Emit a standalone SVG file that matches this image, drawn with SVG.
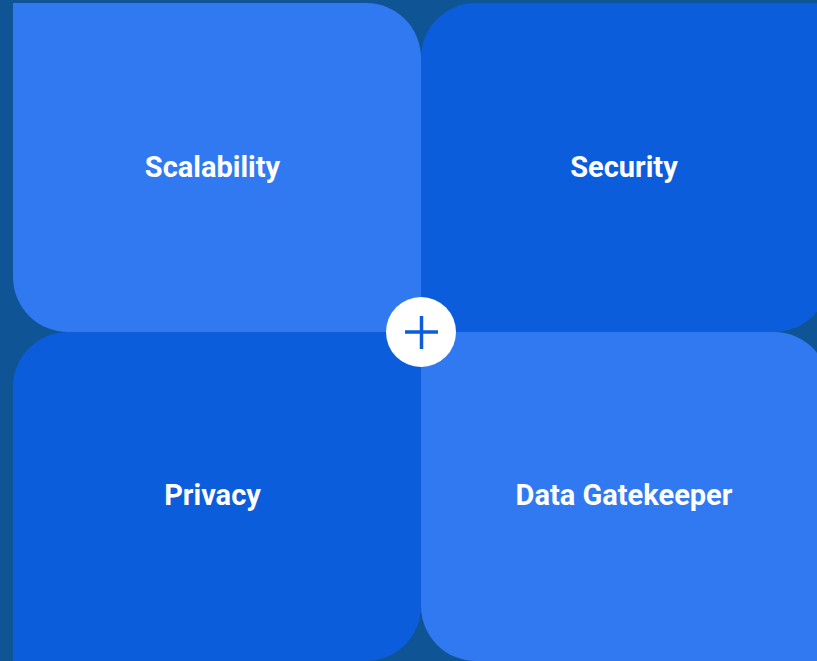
<svg xmlns="http://www.w3.org/2000/svg" width="817" height="661" viewBox="0 0 817 661">
  <style>
    .light { fill: #3179f1; }
    .dark { fill: #0c5ddc; }
    .label { font-family: Roboto, "Liberation Sans", sans-serif; font-weight: 700; font-size: 29px; fill: #ffffff; text-anchor: middle; }
  </style>
  <rect x="0" y="0" width="817" height="661" fill="#0f5596"/>
  <g id="scalability">
    <path class="light" d="M13,3 H366 A55,55 0 0 1 421,58 V332 H68 A55,55 0 0 1 13,277 Z"/>
    <text class="label" x="212.5" y="177">Scalability</text>
  </g>
  <g id="security">
    <path class="dark" d="M476,3 H829 V277 A55,55 0 0 1 774,332 H421 V58 A55,55 0 0 1 476,3 Z"/>
    <text class="label" x="624" y="177">Security</text>
  </g>
  <g id="privacy">
    <path class="dark" d="M68,332 H421 V606 A55,55 0 0 1 366,661 H13 V387 A55,55 0 0 1 68,332 Z"/>
    <text class="label" x="212.5" y="505">Privacy</text>
  </g>
  <g id="data-gatekeeper">
    <path class="light" d="M421,332 H774 A55,55 0 0 1 829,387 V661 H476 A55,55 0 0 1 421,606 Z"/>
    <text class="label" x="624" y="505">Data Gatekeeper</text>
  </g>
  <g id="center-plus">
    <circle cx="421" cy="332" r="35" fill="#ffffff"/>
    <path d="M405,332 H438 M421.5,316 V349" stroke="#0c5ddc" stroke-width="3.5" fill="none"/>
  </g>
  <g id="connectors"/>
</svg>
